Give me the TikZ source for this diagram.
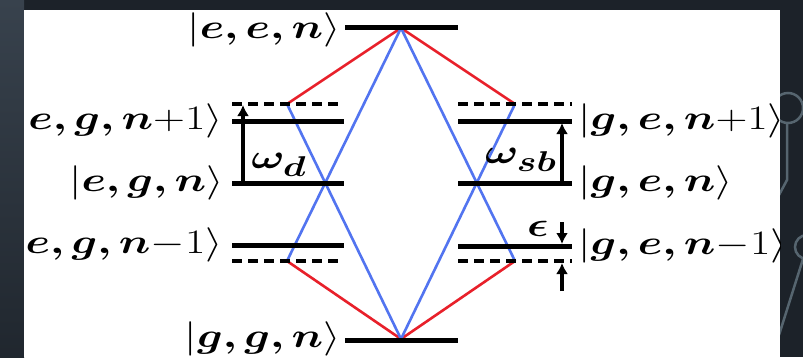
\documentclass[tikz,border=0pt]{standalone}
\usepackage{bm}
\usetikzlibrary{arrows.meta}
\definecolor{bgdark}{HTML}{1C2229}
\definecolor{bgleft}{HTML}{38424D}
\definecolor{deco}{HTML}{56656F}
\definecolor{myred}{HTML}{E8202A}
\definecolor{myblue}{HTML}{5274F0}
\tikzset{
  level/.style={line width=5pt},
  virt/.style={line width=4pt, dash pattern=on 10pt off 6pt},
  redline/.style={myred, line width=2.6pt},
  blueline/.style={myblue, line width=2.6pt},
  freq/.style={line width=4pt, -{Latex[length=11pt,width=12pt]}},
  lab/.style={inner sep=0pt, font=\Huge, xscale=1.78, yscale=1.38},
  declin/.style={deco, line width=2.5pt}
}
\begin{document}
\begin{tikzpicture}[x=1pt,y=-1pt]
\useasboundingbox (0,0) rectangle (803,357);
% slide background
\fill[bgdark] (0,0) rectangle (803,357);
\shade[top color=bgleft, bottom color=bgdark!85!bgleft] (0,0) rectangle (24,357);
% decorations on the right
\draw[declin] (788,108) circle (15);
\draw[declin] (787,123) -- (787,180) -- (779,195);
\draw[declin] (807,247) circle (12);
\draw[declin] (803,259) -- (779,335);
% white panel
\fill[white] (24,10) rectangle (780,357);
\begin{scope}
\clip (24,10) rectangle (780,357);
% coordinates
\coordinate (eeL) at (345,27);   \coordinate (eeR) at (458,27);
\coordinate (ggL) at (345,340);  \coordinate (ggR) at (458,340);
\coordinate (top) at (401,28);   \coordinate (bot) at (401,339);
% left levels
\coordinate (lup1) at (232,104); \coordinate (lup2) at (344,104);
\coordinate (lp1a) at (232,121); \coordinate (lp1b) at (344,121);
\coordinate (l0a) at (232,183);  \coordinate (l0b) at (344,183);
\coordinate (lm1a) at (232,245); \coordinate (lm1b) at (344,245);
\coordinate (ldn1) at (232,261); \coordinate (ldn2) at (344,261);
% right levels
\coordinate (rup1) at (458,104); \coordinate (rup2) at (572,104);
\coordinate (rp1a) at (458,121); \coordinate (rp1b) at (572,121);
\coordinate (r0a) at (458,183);  \coordinate (r0b) at (572,183);
\coordinate (rm1a) at (458,246); \coordinate (rm1b) at (572,246);
\coordinate (rdn1) at (458,261); \coordinate (rdn2) at (572,261);
% transition points
\coordinate (lvu) at (287,104); \coordinate (lvd) at (287,261);
\coordinate (rvu) at (515,104); \coordinate (rvd) at (515,261);
% transitions
\draw[redline] (top) -- (lvu);
\draw[redline] (top) -- (rvu);
\draw[redline] (bot) -- (lvd);
\draw[redline] (bot) -- (rvd);
\draw[blueline] (top) -- (lvd);
\draw[blueline] (lvu) -- (bot);
\draw[blueline] (top) -- (rvd);
\draw[blueline] (rvu) -- (bot);
% levels
\draw[level] (eeL) -- (eeR);
\draw[level] (ggL) -- (ggR);
\draw[virt] (lup1) -- (lup2);
\draw[level] (lp1a) -- (lp1b);
\draw[level] (l0a) -- (l0b);
\draw[level] (lm1a) -- (lm1b);
\draw[virt] (ldn1) -- (ldn2);
\draw[virt] (rup1) -- (rup2);
\draw[level] (rp1a) -- (rp1b);
\draw[level] (r0a) -- (r0b);
\draw[level] (rm1a) -- (rm1b);
\draw[virt] (rdn1) -- (rdn2);
% frequency arrows
\coordinate (wdA) at (243,183); \coordinate (wdB) at (243,105);
\coordinate (wsA) at (562,183); \coordinate (wsB) at (562,123);
\coordinate (epA) at (562,222); \coordinate (epB) at (562,244);
\coordinate (epC) at (562,291); \coordinate (epD) at (562,263);
\draw[freq] (wdA) -- (wdB);
\draw[freq] (wsA) -- (wsB);
\draw[freq] (epA) -- (epB);
\draw[freq] (epC) -- (epD);
% labels
\node[lab, anchor=east] (Lee) at (341,30) {$|\bm{e,e,n}\rangle$};
\node[lab, anchor=east] (Lgg) at (341,339) {$|\bm{g,g,n}\rangle$};
\node[lab, anchor=east] (Legp) at (223,121) {$|\bm{e,g,n}{+}1\rangle$};
\node[lab, anchor=east] (Leg) at (224,183) {$|\bm{e,g,n}\rangle$};
\node[lab, anchor=east] (Legm) at (223,245) {$|\bm{e,g,n}{-}1\rangle$};
\node[lab, anchor=west] (Lgep) at (578,121) {$|\bm{g,e,n}{+}1\rangle$};
\node[lab, anchor=west] (Lge) at (578,183) {$|\bm{g,e,n}\rangle$};
\node[lab, anchor=west] (Lgem) at (578,246) {$|\bm{g,e,n}{-}1\rangle$};
\node[lab, anchor=south west] (Lwd) at (251,177) {$\bm{\omega_d}$};
\node[lab, anchor=south east] (Lws) at (557,172) {$\bm{\omega_{sb}}$};
\node[lab, anchor=south east] (Leps) at (549,237) {$\bm{\epsilon}$};
\end{scope}
\end{tikzpicture}
\end{document}
